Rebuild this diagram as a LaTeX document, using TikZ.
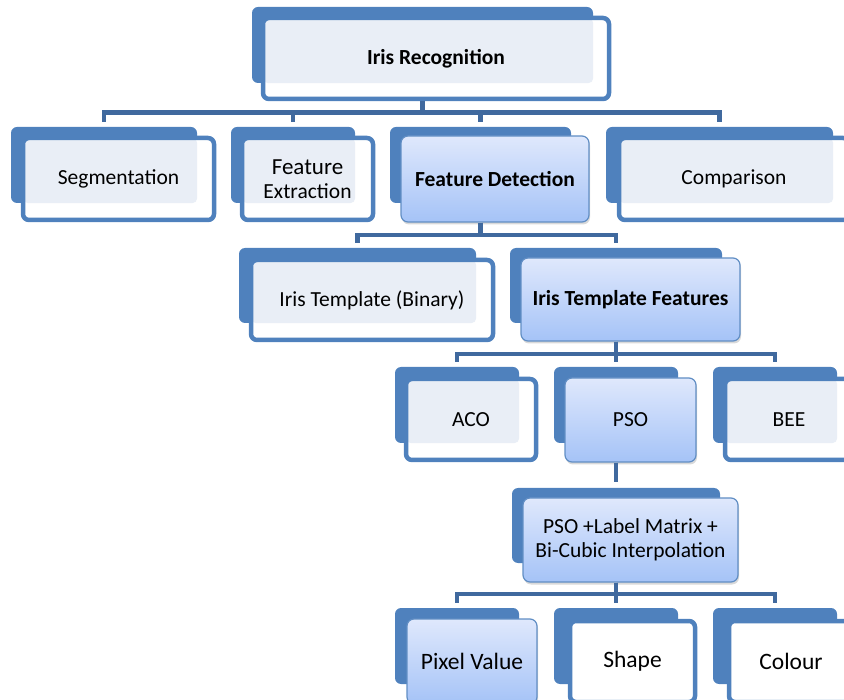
\documentclass[tikz,border=0pt]{standalone}
\usepackage{fontspec}
\setmainfont{Carlito}
\usepackage{xcolor}
\usepackage{tikz}
\usetikzlibrary{shadows}

\definecolor{boxblue}{RGB}{79,129,189}
\definecolor{linkblue}{RGB}{64,105,158}
\definecolor{paleblue}{RGB}{233,238,246}
\definecolor{gradtop}{RGB}{223,232,252}
\definecolor{gradbot}{RGB}{165,195,247}

\begin{document}
\begin{tikzpicture}[x=1pt,y=-1pt,
    every node/.style={inner sep=0pt,align=center,font=\fontsize{21.5}{24}\selectfont},
    spot/.style n args={4}{at={({(#1+#3)/2},{(#2+#4)/2})},minimum width={(#3-#1)*1pt},minimum height={(#4-#2)*1pt}},
    bold/.style={font=\fontsize{21.5}{24}\selectfont\bfseries},
    big/.style={font=\fontsize{23.5}{26}\selectfont},
    back/.style={fill=boxblue,rounded corners=6pt},
    front/.style={draw=boxblue,line width=4.5pt,fill=white,rounded corners=6pt},
    plain/.style={front,path picture={\fill[paleblue,rounded corners=5pt] (path picture bounding box.north west) rectangle (#1-b.south east);}},
    hilite/.style={draw=boxblue!90,line width=1.2pt,rounded corners=7pt,top color=gradtop,bottom color=gradbot,
      drop shadow={opacity=.3,shadow xshift=1pt,shadow yshift=-2.5pt}},
    link/.style={draw=linkblue,line width=4.5pt}]
  \useasboundingbox (0,0) rectangle (844,700);
  \clip (0,0) rectangle (844,700);

  % root
  \node[back,spot={252}{7}{593}{83}] (top-b) {};
  \node[plain=top,bold,spot={263}{18}{609}{99}] (top) {Iris Recognition};

  % first row
  \node[back,spot={11}{127}{197}{203}] (seg-b) {};
  \node[plain=seg,spot={23}{138}{214}{220}] (seg) {Segmentation};
  \node[back,spot={231}{127}{355}{203}] (fe-b) {};
  \node[plain=fe,spot={242}{138}{373}{220}] (fe) {{\fontsize{23}{24}\selectfont Feature}\\Extraction};
  \node[back,spot={390}{127}{571}{203}] (fd-b) {};
  \node[hilite,bold,spot={401}{136}{589}{222}] (fd) {Feature Detection};
  \node[back,spot={606}{127}{833}{203}] (cmp-b) {};
  \node[plain=cmp,spot={619}{138}{849}{220}] (cmp) {Comparison};

  % second row
  \node[back,spot={239}{248}{476}{323}] (itb-b) {};
  \node[plain=itb,spot={251}{260}{493}{340}] (itb) {Iris Template (Binary)};
  \node[back,spot={510}{248}{722}{323}] (itf-b) {};
  \node[hilite,bold,spot={521}{258}{740}{341}] (itf) {Iris Template Features};

  % third row
  \node[back,spot={395}{367}{519}{443}] (aco-b) {};
  \node[plain=aco,spot={406}{379}{536}{460}] (aco) {ACO};
  \node[back,spot={554}{367}{678}{443}] (pso-b) {};
  \node[hilite,spot={565}{378}{696}{462}] (pso) {PSO};
  \node[back,spot={713}{367}{837}{443}] (bee-b) {};
  \node[plain=bee,spot={725}{379}{853}{460}] (bee) {BEE};

  \node[back,spot={512}{488}{720}{563}] (plb-b) {};
  \node[hilite,spot={523}{498}{738}{582}] (plb) {PSO +Label Matrix +\\Bi-Cubic Interpolation};

  % last row
  \node[back,spot={395}{608}{519}{684}] (pix-b) {};
  \node[hilite,big,spot={407}{619}{537}{704}] (pix) {Pixel Value};
  \node[back,spot={554}{608}{678}{684}] (shp-b) {};
  \node[front,big,spot={570}{621}{695}{702}] (shp) {Shape};
  \node[back,spot={713}{608}{837}{684}] (col-b) {};
  \node[front,big,spot={729}{621}{853}{702}] (col) {Colour};

  % links
  \draw[link] (top-b.center |- top.south) -- ++(0,11.5) -| ([yshift=5pt]seg-b.north);
  \draw[link] (top-b.center |- top.south) -- ++(0,11.5) -| ([yshift=5pt]fe-b.north);
  \draw[link] (top-b.center |- top.south) -- ++(0,11.5) -| ([yshift=5pt]fd-b.north);
  \draw[link] (top-b.center |- top.south) -- ++(0,11.5) -| ([yshift=5pt]cmp-b.north);
  \draw[link] (fd-b.center |- fd.south) -- ++(0,12.5) -| ([yshift=5pt]itb-b.north);
  \draw[link] (fd-b.center |- fd.south) -- ++(0,12.5) -| ([yshift=5pt]itf-b.north);
  \draw[link] (itf-b.center |- itf.south) -- ++(0,12.5) -| ([yshift=5pt]aco-b.north);
  \draw[link] (itf-b.center |- itf.south) -- ++(0,12.5) -| ([yshift=5pt]pso-b.north);
  \draw[link] (itf-b.center |- itf.south) -- ++(0,12.5) -| ([yshift=5pt]bee-b.north);
  \draw[link] (pso-b.center |- pso.south) -- ([yshift=6pt]plb-b.north);
  \draw[link] (plb-b.center |- plb.south) -- ++(0,11.5) -| ([yshift=5pt]pix-b.north);
  \draw[link] (plb-b.center |- plb.south) -- ++(0,11.5) -| ([yshift=5pt]shp-b.north);
  \draw[link] (plb-b.center |- plb.south) -- ++(0,11.5) -| ([yshift=5pt]col-b.north);
\end{tikzpicture}
\end{document}
